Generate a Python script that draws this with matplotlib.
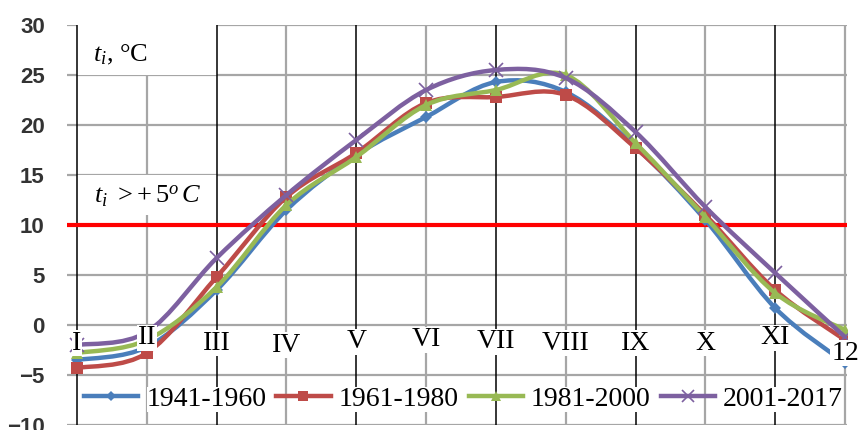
import numpy as np
import matplotlib
matplotlib.use("Agg")
import matplotlib.pyplot as plt
from matplotlib.path import Path
from matplotlib.patches import PathPatch, Rectangle
from matplotlib.lines import Line2D
from matplotlib.transforms import blended_transform_factory

plt.rcParams['mathtext.fontset'] = 'custom'
plt.rcParams['mathtext.rm'] = 'Liberation Serif'
plt.rcParams['mathtext.it'] = 'Liberation Serif:italic'

# ---- data ----
months = ["I", "II", "III", "IV", "V", "VI", "VII", "VIII", "IX", "X", "XI", "12"]
series_names = ["1941-1960", "1961-1980", "1981-2000", "2001-2017"]
t_1941_1960 = [-3.5, -2.2, 3.5, 11.5, 17.0, 20.8, 24.3, 23.3, 17.8, 10.5, 1.7, -3.8]
t_1961_1980 = [-4.3, -2.8, 4.8, 12.8, 17.2, 22.2, 22.8, 23.0, 17.7, 11.0, 3.5, -1.5]
t_1981_2000 = [-2.8, -1.5, 3.8, 12.0, 16.8, 22.0, 23.5, 25.0, 18.2, 10.8, 3.2, -0.5]
t_2001_2017 = [-2.0, -0.7, 6.7, 13.0, 18.5, 23.5, 25.5, 24.7, 19.3, 11.8, 5.2, -1.2]
threshold = 10
y_ticks = [30, 25, 20, 15, 10, 5, 0, -5, -10]

# label vertical placement (positions, not data)
label_y = [-1.8, -1.3, -1.8, -2.0, -1.7, -1.5, -1.7, -1.8, -1.8, -1.8, -1.3, -2.8]

colors = ["#4A7EBB", "#BE4B48", "#98B954", "#7D60A0"]
markers = ["D", "s", "^", "x"]
msizes = [6.5, 9, 9, 10]

fig = plt.figure(figsize=(8.68, 4.30), dpi=100)
ax = fig.add_axes([67/868, 5/430, 780/868, 400/430])
ax.set_xlim(-10/69.8, 11 + 2/69.8)
ax.set_ylim(-10, 30)
for s in ax.spines.values():
    s.set_visible(False)
ax.set_xticks([])
ax.set_yticks(y_ticks)
ax.tick_params(axis='y', length=0, pad=16, labelsize=16, labelcolor='#333333')
for lab in ax.get_yticklabels():
    lab.set_fontfamily('Liberation Sans')
    lab.set_fontweight('bold')

x = np.arange(len(months))
for yv in y_ticks:
    ax.axhline(yv, color='#A6A6A6', lw=1.6, zorder=1)
for i in x:
    if i % 2 == 1:
        ax.axvline(i, color='#A6A6A6', lw=1.6, zorder=1)

ax.add_patch(Rectangle((0, 25), 2, 5, transform=ax.transData, facecolor='white', edgecolor='none', zorder=1.5))
ax.add_patch(Rectangle((0, 11), 2, 4, transform=ax.transData, facecolor='white', edgecolor='none', zorder=1.5))

for i in x:
    if i % 2 == 0:
        ax.axvline(i, color='black', lw=1.1, zorder=2)

ax.text(0.23, 27.0, r'$t_i$, °C', fontsize=19, family='Liberation Serif', va='center', ha='left', zorder=3)
ax.text(0.25, 12.9, r'$t_i\ >\!+5^o\,C$', fontsize=19, va='center', ha='left', zorder=3)

ax.axhline(threshold, color='#FF0000', lw=3, zorder=2.5)


def smooth_path(xs, ys):
    pts = np.column_stack([xs, ys]).astype(float)
    n = len(pts)
    verts = [pts[0]]
    codes = [Path.MOVETO]
    for i in range(n - 1):
        p0 = pts[i - 1] if i > 0 else pts[i]
        p1 = pts[i]
        p2 = pts[i + 1]
        p3 = pts[i + 2] if i + 2 < n else pts[i + 1]
        c1 = p1 + (p2 - p0) / 6.0
        c2 = p2 - (p3 - p1) / 6.0
        verts += [c1, c2, p2]
        codes += [Path.CURVE4] * 3
    return Path(verts, codes)


all_series = [t_1941_1960, t_1961_1980, t_1981_2000, t_2001_2017]
handles = []
for k, ys in enumerate(all_series):
    patch = PathPatch(smooth_path(x, ys), facecolor='none', edgecolor=colors[k], lw=3.2,
                      zorder=3 + k * 0.1, capstyle='round', joinstyle='round')
    ax.add_patch(patch)
    mew = 1.2 if markers[k] == 'x' else 0
    ax.plot(x, ys, linestyle='none', marker=markers[k], ms=msizes[k], color=colors[k],
            mec=colors[k], mew=mew, zorder=3.05 + k * 0.1)
    handles.append(Line2D([], [], color=colors[k], lw=3.2, marker=markers[k], ms=msizes[k] * 0.8,
                          mec=colors[k], mew=mew))

for i, m in enumerate(months):
    ax.text(i, label_y[i], m, fontsize=20, family='Liberation Serif', ha='center', va='center',
            zorder=5, bbox=dict(facecolor='white', edgecolor='none', pad=0.5))

btrans = blended_transform_factory(ax.transAxes, ax.transData)
leg = ax.legend(handles, series_names, loc='center left', bbox_to_anchor=(0.022, -7.4), bbox_transform=btrans,
                ncol=4, frameon=False, prop={'family': 'Liberation Serif', 'size': 20},
                handlelength=1.95, handletextpad=0.3, columnspacing=0.35, borderaxespad=0, borderpad=0)
leg.set_zorder(6)
for t in leg.get_texts():
    t.set_bbox(dict(facecolor='white', edgecolor='none', pad=0))

fig.savefig('out.png', dpi=100)
